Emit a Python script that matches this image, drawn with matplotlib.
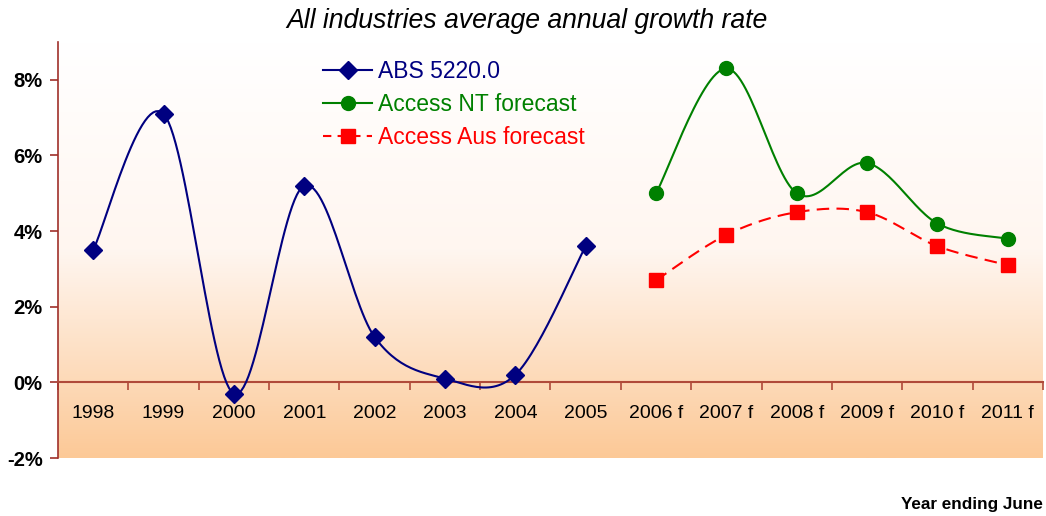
import numpy as np
import matplotlib
matplotlib.use("Agg")
import matplotlib.pyplot as plt
from matplotlib.colors import LinearSegmentedColormap

plt.rcParams['font.family'] = ['Liberation Sans', 'DejaVu Sans']

categories = ["1998", "1999", "2000", "2001", "2002", "2003", "2004", "2005",
              "2006 f", "2007 f", "2008 f", "2009 f", "2010 f", "2011 f"]
abs_values = [3.5, 7.1, -0.3, 5.2, 1.2, 0.1, 0.2, 3.6]
nt_values = [5.0, 8.3, 5.0, 5.8, 4.2, 3.8]
aus_values = [2.7, 3.9, 4.5, 4.5, 3.6, 3.1]
y_ticks = [-2, 0, 2, 4, 6, 8]

abs_x = np.arange(0, 8)
fc_x = np.arange(8, 14)


def smooth(x, y, n=30):
    x = np.asarray(x, float)
    y = np.asarray(y, float)
    P = np.column_stack([x, y])
    Pe = np.vstack([P[0], P, P[-1]])
    out = []
    for i in range(len(P) - 1):
        p0, p1, p2, p3 = Pe[i], Pe[i + 1], Pe[i + 2], Pe[i + 3]
        b1 = p1 + (p2 - p0) / 6.0
        b2 = p2 - (p3 - p1) / 6.0
        t = np.linspace(0, 1, n)[:, None]
        seg = ((1 - t) ** 3) * p1 + 3 * ((1 - t) ** 2) * t * b1 + 3 * (1 - t) * t ** 2 * b2 + t ** 3 * p2
        out.append(seg if i == 0 else seg[1:])
    s = np.vstack(out)
    return s[:, 0], s[:, 1]


fig = plt.figure(figsize=(10.46, 5.16), dpi=100)
ax = fig.add_axes([58 / 1046, 1 - 458 / 516, (1043 - 58) / 1046, (458 - 42) / 516])

ax.set_xlim(-0.5, 13.5)
ax.set_ylim(-2, 9)

# gradient background (white at top, peach at bottom)
cmap = LinearSegmentedColormap.from_list("bg", ["#FFFFFF", "#FFF6F0", "#FCC997"])
grad = np.linspace(0, 1, 256)[:, None]
ax.imshow(grad, extent=[-0.5, 13.5, -2, 9], origin='upper', aspect='auto', cmap=cmap, zorder=0)
ax.set_xlim(-0.5, 13.5)
ax.set_ylim(-2, 9)

navy = "#000080"
green = "#008000"
red = "#FF0000"

sx, sy = smooth(abs_x, abs_values)
ax.plot(sx, sy, color=navy, lw=1.5, zorder=3)
ax.plot(abs_x, abs_values, ls='none', marker='D', ms=9, color=navy, zorder=4)

sx, sy = smooth(fc_x, nt_values)
ax.plot(sx, sy, color=green, lw=1.5, zorder=3)
ax.plot(fc_x, nt_values, ls='none', marker='o', ms=10, color=green, zorder=4)

sx, sy = smooth(fc_x, aus_values)
ax.plot(sx, sy, color=red, lw=1.5, dashes=(6, 3.5), zorder=3)
ax.plot(fc_x, aus_values, ls='none', marker='s', ms=9.5, color=red, zorder=4)

# legend proxies
h1, = ax.plot([], [], color=navy, lw=1.5, marker='D', ms=9)
h2, = ax.plot([], [], color=green, lw=1.5, marker='o', ms=10)
h3, = ax.plot([], [], color=red, lw=1.5, marker='s', ms=9.5, dashes=(4, 3))
leg = ax.legend([h1, h2, h3], ["ABS 5220.0", "Access NT forecast", "Access Aus forecast"],
                loc='upper left', bbox_to_anchor=(0.269, 0.956), frameon=False,
                borderpad=0, borderaxespad=0,
                fontsize=16.5, handlelength=2.15, handletextpad=0.26, labelspacing=0.42)
for t, c in zip(leg.get_texts(), [navy, green, red]):
    t.set_color(c)

spine_col = "#A0302A"
for s in ['top', 'right']:
    ax.spines[s].set_visible(False)
ax.spines['left'].set_color(spine_col)
ax.spines['left'].set_linewidth(1.2)
ax.spines['bottom'].set_position(('data', 0))
ax.spines['bottom'].set_color("#B04A3A")
ax.spines['bottom'].set_linewidth(1.5)

ax.set_yticks(y_ticks)
ax.set_yticklabels([f"{v}%" for v in y_ticks], fontsize=14.5, fontweight='bold')
ax.tick_params(axis='y', direction='out', length=6, width=1.2, color=spine_col, pad=5)

ax.set_xticks(np.arange(len(categories)))
ax.set_xticklabels(categories, fontsize=14)
ax.set_xticks(np.arange(len(categories) + 1) - 0.5, minor=True)
ax.tick_params(axis='x', which='major', length=0, pad=16)
ax.tick_params(axis='x', which='minor', direction='out', length=6, width=1.2, color="#B04A3A")

fig.text(527 / 1046, 1 - 21 / 516, "All industries average annual growth rate",
         ha='center', va='center', fontsize=19.2, style='italic')
fig.text(1043 / 1046, 1 - 505 / 516, "Year ending June", ha='right', va='center',
         fontsize=12.3, fontweight='bold')

fig.savefig("out.png", dpi=100)
